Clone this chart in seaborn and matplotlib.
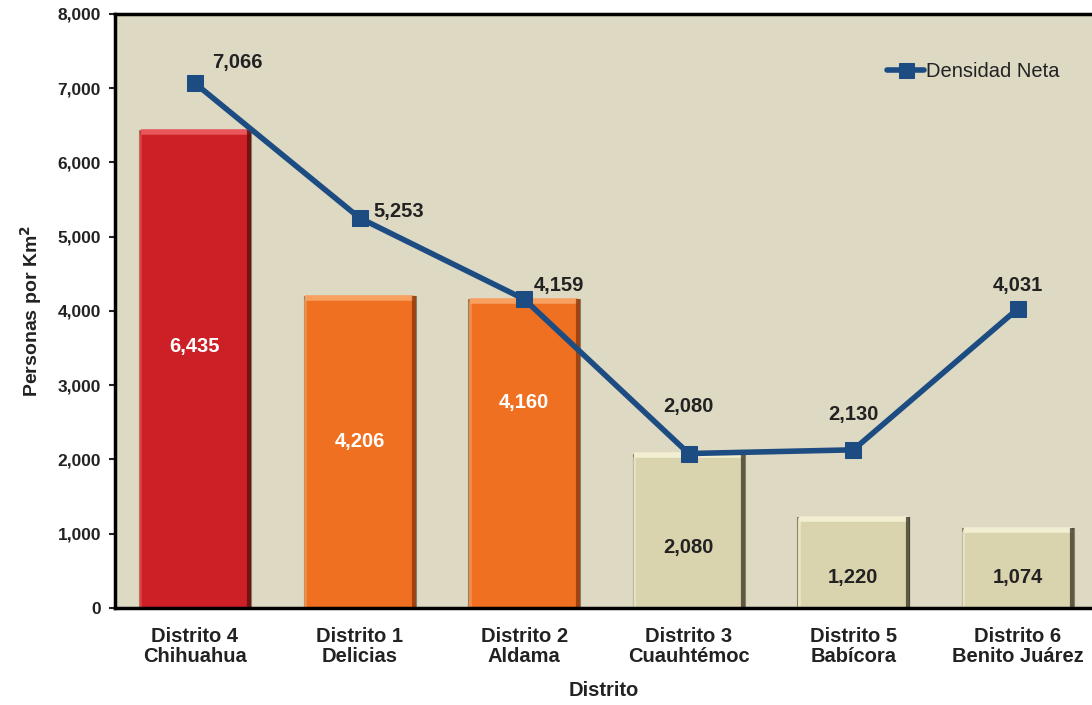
import numpy as np
import pandas as pd
import matplotlib.pyplot as plt
import seaborn as sns
from matplotlib.ticker import FuncFormatter

# DATA
DISTRITOS = ["Distrito 4\nChihuahua", "Distrito 1\nDelicias", "Distrito 2\nAldama",
             "Distrito 3\nCuauhtémoc", "Distrito 5\nBabícora", "Distrito 6\nBenito Juárez"]
DENSIDAD_BRUTA = [6435, 4206, 4160, 2080, 1220, 1074]
DENSIDAD_NETA = [7066, 5253, 4159, 2080, 2130, 4031]
Y_TICKS = [0, 1000, 2000, 3000, 4000, 5000, 6000, 7000, 8000]

# STYLE
BAR_COLORS = ["#CC1F26", "#F07022", "#F07022", "#D9D3AE", "#D9D3AE", "#D9D3AE"]
BAR_LIGHT = ["#E8555A", "#F7A060", "#F7A060", "#F2EED2", "#F2EED2", "#F2EED2"]
BAR_DARK = ["#5E0E12", "#8A3A0E", "#8A3A0E", "#3E3B2A", "#3E3B2A", "#3E3B2A"]
BAR_TEXT = ["white", "white", "white", "#222222", "#222222", "#222222"]
BAR_LABEL_Y = [3515, 2236, 2761, 808, 417, 417]
LINE_COLOR = "#1C4C82"
BG = "#DDD9C3"

df = pd.DataFrame({"Distrito": DISTRITOS, "Bruta": DENSIDAD_BRUTA, "Neta": DENSIDAD_NETA})

sns.set_style("white")
plt.rcParams['font.family'] = ['Liberation Sans', 'DejaVu Sans']

fig = plt.figure(figsize=(10.92, 7.05), dpi=100)
ax = fig.add_axes([0.1053, 0.1376, 0.8947, 0.8426])
ax.set_facecolor(BG)

sns.barplot(data=df, x="Distrito", y="Bruta", hue="Distrito", palette=BAR_COLORS,
            saturation=1, legend=False, width=0.68, ax=ax, zorder=2)

# simple bevel: light top/left, dark right
for patch, lc, dc in zip(list(ax.patches), BAR_LIGHT, BAR_DARK):
    patch.set_edgecolor("#8C8466")
    patch.set_linewidth(0.8)
    x0, y0 = patch.get_x(), patch.get_y()
    w, h = patch.get_width(), patch.get_height()
    ax.plot([x0 + 0.01, x0 + w - 0.01], [y0 + h - 25, y0 + h - 25], color=lc,
            lw=4, solid_capstyle='butt', zorder=2.5)
    ax.plot([x0 + 0.008, x0 + 0.008], [y0, y0 + h - 40], color=lc, lw=2,
            alpha=0.6, solid_capstyle='butt', zorder=2.5)
    ax.plot([x0 + w - 0.01, x0 + w - 0.01], [y0, y0 + h], color=dc, lw=3,
            alpha=0.8, solid_capstyle='butt', zorder=2.5)

sns.lineplot(x=np.arange(len(DISTRITOS)), y=DENSIDAD_NETA, ax=ax, color=LINE_COLOR,
             linewidth=4, marker='s', markersize=12, markeredgecolor=LINE_COLOR,
             label="Densidad Neta", zorder=4)

# bar labels
for i, (v, ly, c) in enumerate(zip(DENSIDAD_BRUTA, BAR_LABEL_Y, BAR_TEXT)):
    ax.text(i, ly, f"{v:,}", ha='center', va='center', fontsize=14.5,
            fontweight='bold', color=c, zorder=5)

# line labels
offsets = [(0.26, 280), (0.24, 80), (0.21, 190), (0, 630), (0, 480), (0, 310)]
for i, (v, (dx, dy)) in enumerate(zip(DENSIDAD_NETA, offsets)):
    ax.text(i + dx, v + dy, f"{v:,}", ha='center', va='center', fontsize=14.5,
            fontweight='bold', color="#222222", zorder=5)

ax.set_xlim(-0.486, 5.45)
ax.set_ylim(0, 8000)
ax.set_yticks(Y_TICKS)
ax.yaxis.set_major_formatter(FuncFormatter(lambda v, p: f"{int(v):,}"))
ax.tick_params(axis='y', length=4, width=1.5, direction='out', left=True,
               labelsize=12.5, colors="#222222", pad=6)
ax.tick_params(axis='x', length=0, labelsize=14.5, colors="#222222", pad=14)
for lab in ax.get_xticklabels() + ax.get_yticklabels():
    lab.set_fontweight('bold')
    lab.set_linespacing(1.05)

for side in ['left', 'bottom', 'top']:
    ax.spines[side].set_visible(True)
    ax.spines[side].set_color('black')
    ax.spines[side].set_linewidth(2.5)
ax.spines['right'].set_visible(False)

ax.set_xlabel("Distrito", fontsize=14.5, fontweight='bold', color="#222222", labelpad=11)
ax.set_ylabel("Personas por Km$^\\mathbf{2}$", fontsize=14, fontweight='bold',
              color="#222222", labelpad=10)

leg = ax.legend(loc='upper right', bbox_to_anchor=(0.985, 0.95), frameon=False,
                fontsize=14.5, handlelength=1.8, handletextpad=0.1, markerscale=0.9)
for t in leg.get_texts():
    t.set_color("#222222")

fig.savefig("out.png", dpi=100)
